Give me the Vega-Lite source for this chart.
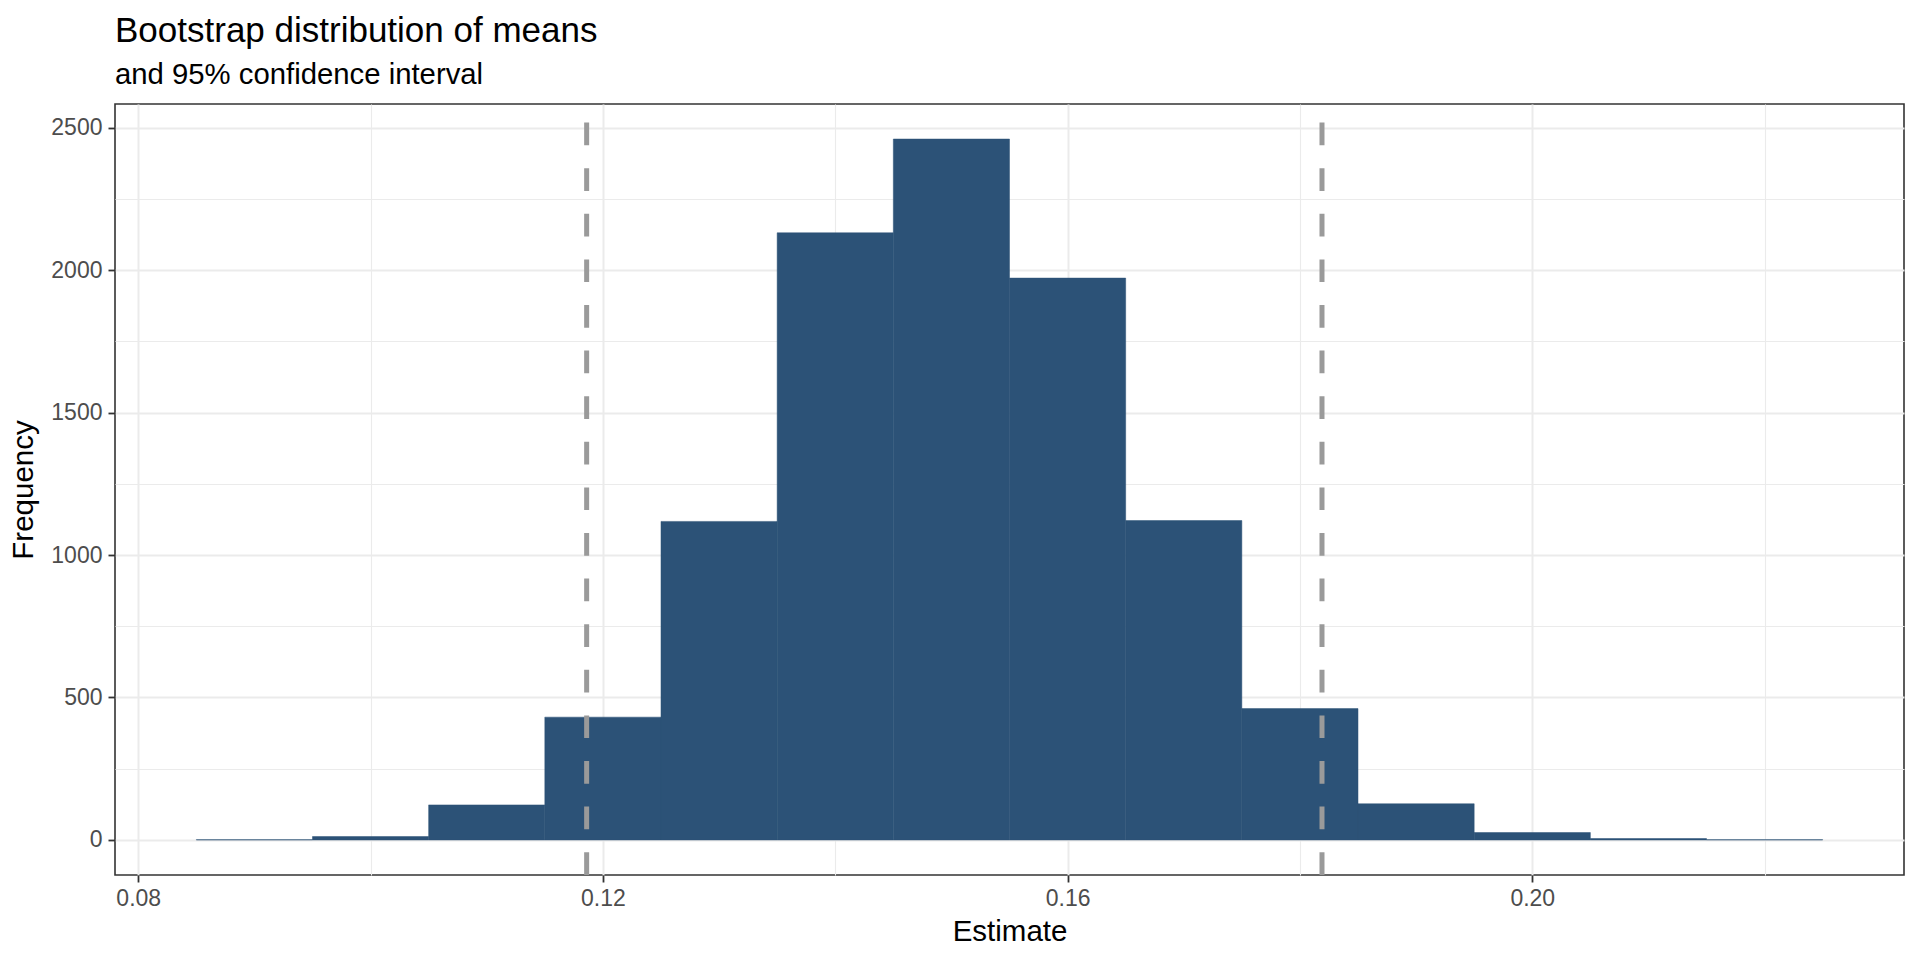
{
  "$schema": "https://vega.github.io/schema/vega-lite/v6.json",
  "autosize": "none",
  "padding": {"left": 115, "top": 104, "right": 16, "bottom": 85},
  "width": 1789,
  "height": 771,
  "background": "white",
  "title": {
    "text": "Bootstrap distribution of means",
    "subtitle": "and 95% confidence interval",
    "anchor": "start",
    "frame": "group",
    "font": "Liberation Sans",
    "fontSize": 35,
    "fontWeight": "normal",
    "color": "#000000",
    "subtitleFont": "Liberation Sans",
    "subtitleFontSize": 29.3,
    "subtitleColor": "#000000",
    "subtitlePadding": 12,
    "offset": 11
  },
  "config": {
    "view": {"stroke": "#333333", "strokeWidth": 1.6},
    "axis": {
      "labelFont": "Liberation Sans",
      "titleFont": "Liberation Sans",
      "labelFontSize": 23,
      "labelColor": "#4D4D4D",
      "titleFontSize": 29.5,
      "titleFontWeight": "normal",
      "titleColor": "#000000",
      "tickColor": "#333333",
      "tickSize": 7,
      "domain": false,
      "gridColor": "#EBEBEB"
    }
  },
  "layer": [
    {
      "data": {
        "values": [
          {"start": 0.085, "end": 0.095, "count": 1},
          {"start": 0.095, "end": 0.105, "count": 12},
          {"start": 0.105, "end": 0.115, "count": 123},
          {"start": 0.115, "end": 0.125, "count": 431},
          {"start": 0.125, "end": 0.135, "count": 1118},
          {"start": 0.135, "end": 0.145, "count": 2131},
          {"start": 0.145, "end": 0.155, "count": 2460},
          {"start": 0.155, "end": 0.165, "count": 1972},
          {"start": 0.165, "end": 0.175, "count": 1121},
          {"start": 0.175, "end": 0.185, "count": 461},
          {"start": 0.185, "end": 0.195, "count": 127},
          {"start": 0.195, "end": 0.205, "count": 26},
          {"start": 0.205, "end": 0.215, "count": 5},
          {"start": 0.215, "end": 0.225, "count": 1}
        ]
      },
      "mark": {"type": "bar", "color": "#2C5277", "stroke": "#2C5277", "strokeWidth": 0.5},
      "encoding": {
        "x": {
          "field": "start",
          "type": "quantitative",
          "title": "Estimate",
          "scale": {"domain": [0.078, 0.232], "nice": false, "zero": false},
          "axis": {
            "values": [0.08, 0.10, 0.12, 0.14, 0.16, 0.18, 0.20, 0.22],
            "format": ".2f",
            "labelExpr": "round(datum.value*100) % 4 === 0 ? datum.label : ''",
            "tickOpacity": {"condition": {"test": "round(datum.value*100) % 4 === 0", "value": 1}, "value": 0},
            "gridWidth": {"condition": {"test": "round(datum.value*100) % 4 === 0", "value": 2}, "value": 1.1},
            "tickWidth": 1.8,
            "labelPadding": 5,
            "titlePadding": 7,
            "labelFlush": false,
            "labelOverlap": false
          }
        },
        "x2": {"field": "end"},
        "y": {
          "field": "count",
          "type": "quantitative",
          "title": "Frequency",
          "scale": {"domain": [-123, 2583], "nice": false},
          "axis": {
            "values": [0, 250, 500, 750, 1000, 1250, 1500, 1750, 2000, 2250, 2500],
            "format": "d",
            "labelExpr": "datum.value % 500 === 0 ? datum.label : ''",
            "tickOpacity": {"condition": {"test": "datum.value % 500 === 0", "value": 1}, "value": 0},
            "gridWidth": {"condition": {"test": "datum.value % 500 === 0", "value": 2}, "value": 1.1},
            "tickWidth": 1.8,
            "labelPadding": 6,
            "titlePadding": 12,
            "labelFlush": false,
            "labelOverlap": false
          }
        },
        "y2": {"datum": 0}
      }
    },
    {
      "data": {"values": [{"ci": 0.1186}, {"ci": 0.1819}]},
      "mark": {"type": "rule", "color": "#9A9A9A", "strokeWidth": 5, "strokeDash": [22.7, 22.9], "strokeDashOffset": 27},
      "encoding": {
        "x": {"field": "ci", "type": "quantitative"}
      }
    }
  ]
}
